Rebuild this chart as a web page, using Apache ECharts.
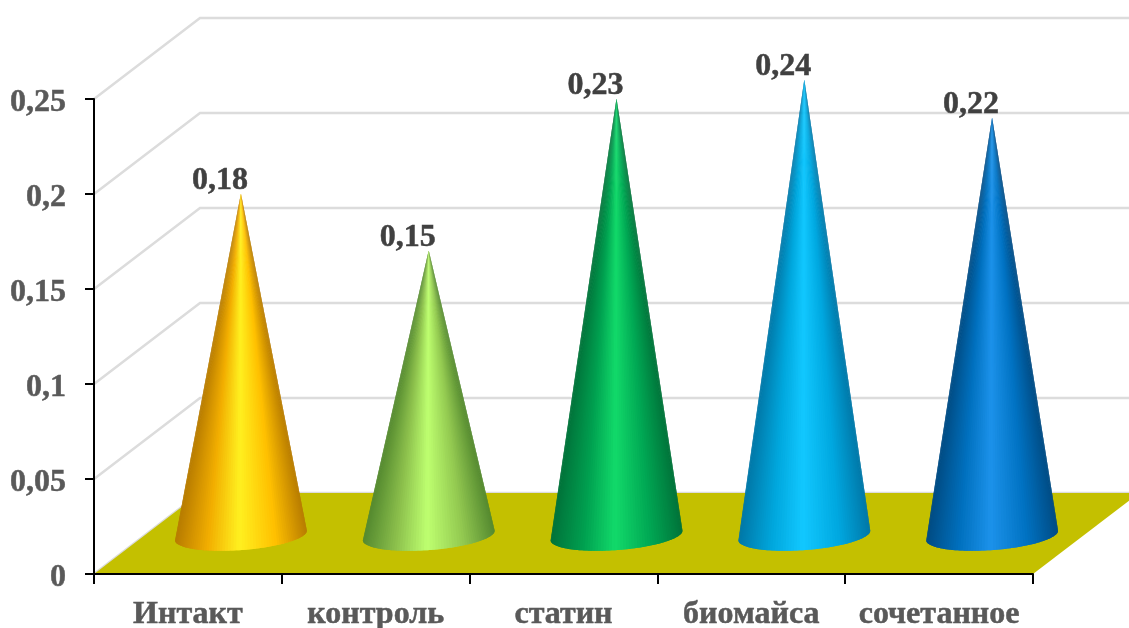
<!DOCTYPE html>
<html>
<head>
<meta charset="utf-8">
<style>html,body{margin:0;padding:0;background:#fff}#chart{width:1129px;height:628px}</style>
<script src="https://cdn.jsdelivr.net/npm/echarts@6/dist/echarts.min.js"></script>
</head>
<body>
<div id="chart"></div>
<script>
// Chart data
const categories = ['Интакт', 'контроль', 'статин', 'биомайса', 'сочетанное'];
const values = [0.18, 0.15, 0.23, 0.24, 0.22];
const gridValues = [0, 0.05, 0.1, 0.15, 0.2, 0.25];

// Side shading of each cone: edge, mid, highlight, mid, edge
const coneShades = [
  ['#b87c00', '#f2ae00', '#fff020', '#ffc000', '#b87c00'],
  ['#558a30', '#8cc04c', '#beff70', '#92c850', '#558a30'],
  ['#00733a', '#00a050', '#12da6a', '#00a653', '#00733a'],
  ['#0078a8', '#00a6dc', '#12c8ff', '#00a8e0', '#0078a8'],
  ['#004c84', '#0070be', '#1c92ea', '#0072c2', '#004c84']
];
const shadeStops = [0, 0.24, 0.48, 0.76, 1];

// Oblique projection of the chart box
const DEPTH_X = 106;
const DEPTH_Y = 81;
const CONE_LIFT = 38.5;
const SLICES = 72;
const FONT = '"Liberation Serif", "Times New Roman", serif';
const commaDecimal = v => String(v).replace('.', ',');

function shadeAt(shade, u) {
  for (let s = 1; s < shadeStops.length; s++) {
    if (u <= shadeStops[s]) {
      const f = (u - shadeStops[s - 1]) / (shadeStops[s] - shadeStops[s - 1]);
      return echarts.color.lerp(f, [shade[s - 1], shade[s]]);
    }
  }
  return shade[shade.length - 1];
}

function renderWall(params, api) {
  const box = params.coordSys;
  const y = api.coord([0, api.value(0)])[1];
  const left = box.x, right = box.x + box.width;
  return {
    type: 'polyline',
    shape: { points: [[left, y], [left + DEPTH_X, y - DEPTH_Y], [right + DEPTH_X, y - DEPTH_Y]] },
    style: { fill: null, stroke: '#dcdcdc', lineWidth: 2.5 }
  };
}

function renderFloor(params, api) {
  const box = params.coordSys;
  const y = api.coord([0, 0])[1];
  const left = box.x, right = box.x + box.width;
  return {
    type: 'polygon',
    shape: { points: [[left, y], [right, y], [right + DEPTH_X, y - DEPTH_Y], [left + DEPTH_X, y - DEPTH_Y]] },
    style: { fill: '#c4c000' }
  };
}

function renderCone(params, api) {
  const i = api.value(0), v = api.value(1);
  const base = api.coord([i, 0]);
  const top = api.coord([i, v]);
  const band = api.size([1, 0])[0];
  const cx = base[0] + DEPTH_X / 2;
  const cy = base[1] - CONE_LIFT;
  const a = band * 0.352, b = 14.5, tilt = -4.3 * Math.PI / 180;
  const tipX = cx, tipY = top[1] - CONE_LIFT;
  const shade = coneShades[params.dataIndex];

  // Rim point of the tilted base ellipse, front half only
  const rim = k => {
    const t = Math.PI - Math.PI * k / SLICES;
    const ex = a * Math.cos(t), ey = b * Math.sin(t);
    return [cx + ex * Math.cos(tilt) - ey * Math.sin(tilt),
            cy + ex * Math.sin(tilt) + ey * Math.cos(tilt)];
  };

  // Fan of slices from the rim to the tip, so the shading narrows with the cone.
  // Each slice runs a little under the next one to hide the seams.
  const children = [];
  for (let k = 0; k < SLICES; k++) {
    const u = (1 - Math.cos(Math.PI * (k + 0.5) / SLICES)) / 2;
    const pts = [];
    for (let j = k; j <= Math.min(k + 2, SLICES); j++) pts.push(rim(j));
    pts.push([tipX, tipY]);
    children.push({
      type: 'polygon',
      shape: { points: pts },
      style: { fill: shadeAt(shade, u) }
    });
  }
  children.push({
    type: 'text',
    style: {
      x: tipX - 21, y: tipY + 3,
      text: commaDecimal(v),
      font: 'bold 32px ' + FONT,
      fill: '#404040',
      stroke: '#404040',
      lineWidth: 0.5,
      align: 'center',
      verticalAlign: 'bottom'
    },
    z2: 5
  });
  return { type: 'group', children };
}

const chart = echarts.init(document.getElementById('chart'));
chart.setOption({
  animation: false,
  backgroundColor: '#fff',
  grid: { left: 94, right: 96, top: 99, bottom: 54, outerBoundsMode: 'none' },
  xAxis: {
    type: 'category',
    data: categories,
    z: 10,
    axisLine: { lineStyle: { color: '#000', width: 2 } },
    axisTick: { show: true, alignWithLabel: false, length: 10, lineStyle: { color: '#000', width: 2 } },
    axisLabel: { color: '#595959', fontFamily: FONT, fontWeight: 'bold', fontSize: 32, margin: 25, interval: 0,
                 textBorderColor: '#595959', textBorderWidth: 0.5 }
  },
  yAxis: {
    type: 'value',
    min: 0,
    max: 0.25,
    interval: 0.05,
    z: 10,
    splitLine: { show: false },
    axisLine: { show: true, lineStyle: { color: '#000', width: 2 } },
    axisTick: { show: true, length: 9, lineStyle: { color: '#000', width: 2 } },
    axisLabel: {
      margin: 28,
      formatter: v => '{tick|' + commaDecimal(v) + '}',
      rich: {
        tick: { color: '#595959', fontFamily: FONT, fontWeight: 'bold', fontSize: 32, padding: [8, 0, 0, 0],
                textBorderColor: '#595959', textBorderWidth: 0.5 }
      }
    }
  },
  series: [
    { type: 'custom', z: 1, silent: true, renderItem: renderWall, encode: { y: 0 }, data: gridValues.map(v => [v]) },
    { type: 'custom', z: 2, silent: true, renderItem: renderFloor, data: [[0, 0]] },
    { type: 'custom', z: 3, silent: true, renderItem: renderCone, data: values.map((v, i) => [i, v]) }
  ]
});
</script>
</body>
</html>
